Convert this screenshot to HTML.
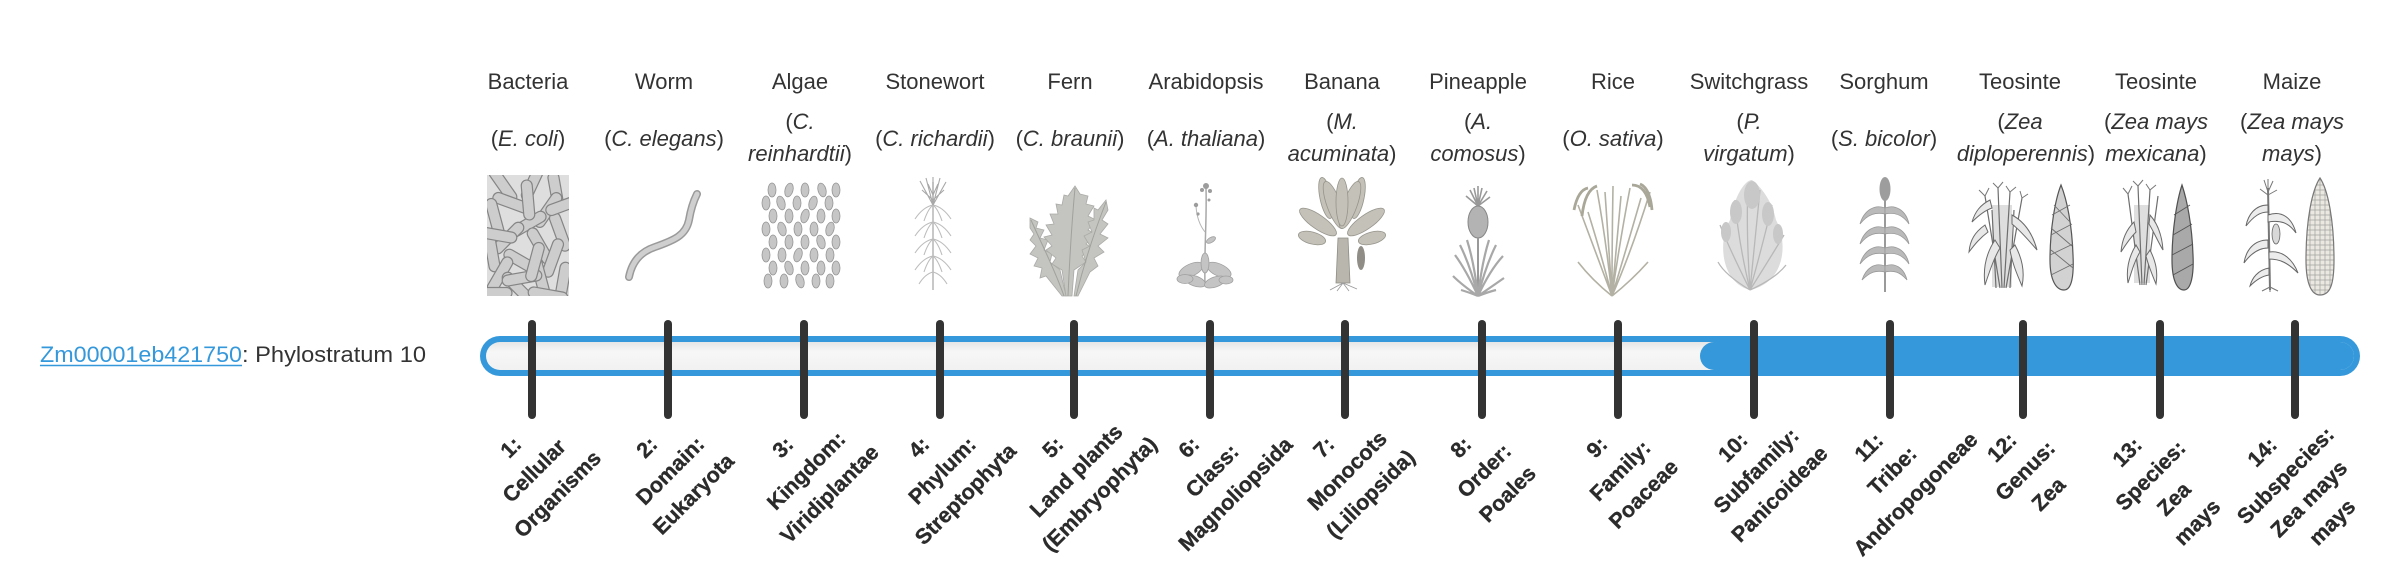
<!DOCTYPE html>
<html><head><meta charset="utf-8"><style>
html,body{margin:0;padding:0;background:#fff;width:2400px;height:580px;overflow:hidden}
svg{display:block}
</style></head><body>
<svg width="2400" height="580" viewBox="0 0 2400 580" xmlns="http://www.w3.org/2000/svg" font-family="'Liberation Sans', sans-serif">
<defs>
  <linearGradient id="ig" x1="0" y1="0" x2="0" y2="1">
    <stop offset="0" stop-color="#e6e6e6"/>
    <stop offset="0.35" stop-color="#f7f7f7"/>
    <stop offset="1" stop-color="#f1f1f1"/>
  </linearGradient>
  <clipPath id="cb"><rect x="487" y="175" width="82" height="121"/></clipPath>
  <pattern id="kern" width="5" height="5" patternUnits="userSpaceOnUse"><rect width="5" height="5" fill="#ebe8e2" stroke="#a9a6a0" stroke-width="0.8"/></pattern>
</defs>

<!-- Header names -->
<g font-size="22" fill="#333" text-anchor="middle">
  <text x="528" y="89">Bacteria</text>
  <text x="664" y="89">Worm</text>
  <text x="800" y="89">Algae</text>
  <text x="935" y="89">Stonewort</text>
  <text x="1070" y="89">Fern</text>
  <text x="1206" y="89">Arabidopsis</text>
  <text x="1342" y="89">Banana</text>
  <text x="1478" y="89">Pineapple</text>
  <text x="1613" y="89">Rice</text>
  <text x="1749" y="89">Switchgrass</text>
  <text x="1884" y="89">Sorghum</text>
  <text x="2020" y="89">Teosinte</text>
  <text x="2156" y="89">Teosinte</text>
  <text x="2292" y="89">Maize</text>
</g>

<!-- Species -->
<g font-size="22" fill="#333" text-anchor="middle">
  <text x="528" y="146">(<tspan font-style="italic">E. coli</tspan>)</text>
  <text x="664" y="146">(<tspan font-style="italic">C. elegans</tspan>)</text>
  <text x="800" y="129">(<tspan font-style="italic">C.</tspan></text>
  <text x="800" y="161"><tspan font-style="italic">reinhardtii</tspan>)</text>
  <text x="935" y="146">(<tspan font-style="italic">C. richardii</tspan>)</text>
  <text x="1070" y="146">(<tspan font-style="italic">C. braunii</tspan>)</text>
  <text x="1206" y="146">(<tspan font-style="italic">A. thaliana</tspan>)</text>
  <text x="1342" y="129">(<tspan font-style="italic">M.</tspan></text>
  <text x="1342" y="161"><tspan font-style="italic">acuminata</tspan>)</text>
  <text x="1478" y="129">(<tspan font-style="italic">A.</tspan></text>
  <text x="1478" y="161"><tspan font-style="italic">comosus</tspan>)</text>
  <text x="1613" y="146">(<tspan font-style="italic">O. sativa</tspan>)</text>
  <text x="1749" y="129">(<tspan font-style="italic">P.</tspan></text>
  <text x="1749" y="161"><tspan font-style="italic">virgatum</tspan>)</text>
  <text x="1884" y="146">(<tspan font-style="italic">S. bicolor</tspan>)</text>
  <text x="2020" y="129">(<tspan font-style="italic">Zea</tspan></text>
  <text x="2026" y="161"><tspan font-style="italic">diploperennis</tspan>)</text>
  <text x="2156" y="129">(<tspan font-style="italic">Zea mays</tspan></text>
  <text x="2156" y="161"><tspan font-style="italic">mexicana</tspan>)</text>
  <text x="2292" y="129">(<tspan font-style="italic">Zea mays</tspan></text>
  <text x="2292" y="161"><tspan font-style="italic">mays</tspan>)</text>
</g>

<!-- 1 Bacteria -->
<g clip-path="url(#cb)">
  <rect x="487" y="175" width="82" height="121" fill="#dedede"/>
  <g fill="#cdcdcd" stroke="#858585" stroke-width="1.2">
    <rect x="-20" y="-5.5" width="40" height="11" rx="5.5" transform="translate(503,185) rotate(55)"/>
    <rect x="-20" y="-5.5" width="40" height="11" rx="5.5" transform="translate(533,182) rotate(-65)"/>
    <rect x="-20" y="-5.5" width="40" height="11" rx="5.5" transform="translate(556,192) rotate(80)"/>
    <rect x="-20" y="-5.5" width="40" height="11" rx="5.5" transform="translate(512,203) rotate(20)"/>
    <rect x="-20" y="-5.5" width="40" height="11" rx="5.5" transform="translate(548,210) rotate(-55)"/>
    <rect x="-20" y="-5.5" width="40" height="11" rx="5.5" transform="translate(495,218) rotate(75)"/>
    <rect x="-20" y="-5.5" width="40" height="11" rx="5.5" transform="translate(528,224) rotate(-30)"/>
    <rect x="-20" y="-5.5" width="40" height="11" rx="5.5" transform="translate(560,232) rotate(70)"/>
    <rect x="-20" y="-5.5" width="40" height="11" rx="5.5" transform="translate(508,238) rotate(-45)"/>
    <rect x="-20" y="-5.5" width="40" height="11" rx="5.5" transform="translate(540,246) rotate(60)"/>
    <rect x="-20" y="-5.5" width="40" height="11" rx="5.5" transform="translate(492,252) rotate(80)"/>
    <rect x="-20" y="-5.5" width="40" height="11" rx="5.5" transform="translate(553,258) rotate(-70)"/>
    <rect x="-20" y="-5.5" width="40" height="11" rx="5.5" transform="translate(522,262) rotate(30)"/>
    <rect x="-20" y="-5.5" width="40" height="11" rx="5.5" transform="translate(500,275) rotate(-60)"/>
    <rect x="-20" y="-5.5" width="40" height="11" rx="5.5" transform="translate(540,276) rotate(75)"/>
    <rect x="-20" y="-5.5" width="40" height="11" rx="5.5" transform="translate(563,282) rotate(-80)"/>
    <rect x="-20" y="-5.5" width="40" height="11" rx="5.5" transform="translate(518,288) rotate(45)"/>
    <rect x="-20" y="-5.5" width="40" height="11" rx="5.5" transform="translate(548,295) rotate(10)"/>
    <rect x="-20" y="-5.5" width="40" height="11" rx="5.5" transform="translate(492,293) rotate(0)"/>
    <rect x="-20" y="-5.5" width="40" height="11" rx="5.5" transform="translate(528,200) rotate(85)"/>
    <rect x="-20" y="-5.5" width="40" height="11" rx="5.5" transform="translate(522,278) rotate(-10)"/>
    <rect x="-20" y="-5.5" width="40" height="11" rx="5.5" transform="translate(565,205) rotate(-20)"/>
    <rect x="-20" y="-5.5" width="40" height="11" rx="5.5" transform="translate(497,235) rotate(10)"/>
    <rect x="-20" y="-5.5" width="40" height="11" rx="5.5" transform="translate(535,262) rotate(-75)"/>
  </g>
</g>

<!-- 2 Worm -->
<path d="M629,277 C632,262 640,252 655,247 C675,240 686,235 689,220 C691,208 694,200 697,194" fill="none" stroke="#9a9a9a" stroke-width="8" stroke-linecap="round"/>
<path d="M629,277 C632,262 640,252 655,247 C675,240 686,235 689,220 C691,208 694,200 697,194" fill="none" stroke="#cfcfcf" stroke-width="5" stroke-linecap="round"/>

<!-- 3 Algae -->
<g fill="#c6c6c6" stroke="#959595" stroke-width="0.8">
  <ellipse cx="772" cy="190" rx="4" ry="7"/><ellipse cx="789" cy="190" rx="4" ry="7" transform="rotate(15 789 190)"/><ellipse cx="805" cy="190" rx="4" ry="7"/><ellipse cx="822" cy="190" rx="4" ry="7" transform="rotate(-15 822 190)"/><ellipse cx="836" cy="190" rx="4" ry="7"/>
  <ellipse cx="766" cy="203" rx="4" ry="7"/><ellipse cx="781" cy="203" rx="4" ry="7" transform="rotate(-15 781 203)"/><ellipse cx="797" cy="203" rx="4" ry="7"/><ellipse cx="813" cy="203" rx="4" ry="7" transform="rotate(15 813 203)"/><ellipse cx="829" cy="203" rx="4" ry="7"/>
  <ellipse cx="773" cy="216" rx="4" ry="7"/><ellipse cx="789" cy="216" rx="4" ry="7"/><ellipse cx="805" cy="216" rx="4" ry="7" transform="rotate(15 805 216)"/><ellipse cx="821" cy="216" rx="4" ry="7"/><ellipse cx="836" cy="216" rx="4" ry="7"/>
  <ellipse cx="766" cy="229" rx="4" ry="7"/><ellipse cx="782" cy="229" rx="4" ry="7" transform="rotate(-15 782 229)"/><ellipse cx="798" cy="229" rx="4" ry="7"/><ellipse cx="814" cy="229" rx="4" ry="7"/><ellipse cx="830" cy="229" rx="4" ry="7" transform="rotate(15 830 229)"/>
  <ellipse cx="773" cy="242" rx="4" ry="7"/><ellipse cx="789" cy="242" rx="4" ry="7"/><ellipse cx="805" cy="242" rx="4" ry="7"/><ellipse cx="821" cy="242" rx="4" ry="7" transform="rotate(-15 821 242)"/><ellipse cx="836" cy="242" rx="4" ry="7"/>
  <ellipse cx="766" cy="255" rx="4" ry="7"/><ellipse cx="782" cy="255" rx="4" ry="7"/><ellipse cx="798" cy="255" rx="4" ry="7" transform="rotate(15 798 255)"/><ellipse cx="814" cy="255" rx="4" ry="7"/><ellipse cx="830" cy="255" rx="4" ry="7"/>
  <ellipse cx="773" cy="268" rx="4" ry="7"/><ellipse cx="789" cy="268" rx="4" ry="7" transform="rotate(-15 789 268)"/><ellipse cx="805" cy="268" rx="4" ry="7"/><ellipse cx="821" cy="268" rx="4" ry="7"/><ellipse cx="836" cy="268" rx="4" ry="7"/>
  <ellipse cx="768" cy="281" rx="4" ry="7"/><ellipse cx="784" cy="281" rx="4" ry="7"/><ellipse cx="800" cy="281" rx="4" ry="7" transform="rotate(-15 800 281)"/><ellipse cx="816" cy="281" rx="4" ry="7"/><ellipse cx="830" cy="281" rx="4" ry="7"/>
</g>

<!-- 4 Stonewort -->
<g fill="none" stroke="#bdbdbd" stroke-width="1.1">
  <line x1="933" y1="182" x2="933" y2="290" stroke="#b0b0b0" stroke-width="1.4"/>
  <path d="M933,205 q-10,2 -18,14 M933,205 q10,2 18,14 M933,205 q-5,4 -9,16 M933,205 q5,4 9,16"/>
  <path d="M933,222 q-10,2 -18,14 M933,222 q10,2 18,14 M933,222 q-5,4 -9,16 M933,222 q5,4 9,16"/>
  <path d="M933,239 q-10,2 -18,14 M933,239 q10,2 18,14 M933,239 q-5,4 -9,16 M933,239 q5,4 9,16"/>
  <path d="M933,256 q-10,2 -18,14 M933,256 q10,2 18,14 M933,256 q-5,4 -9,16 M933,256 q5,4 9,16"/>
  <path d="M933,272 q-8,2 -14,12 M933,272 q8,2 14,12"/>
  <path d="M933,205 L920,181 M933,205 L926,178 M933,205 L933,177 M933,205 L940,178 M933,205 L946,182 M933,200 L922,190 M933,200 L944,190 M933,195 L928,184 M933,195 L938,184" stroke="#a8a8a8"/>
</g>

<!-- 5 Fern -->
<g fill="#c4c4c1" stroke="#aaaaa7" stroke-width="0.8">
  <polygon points="1030,218 1038,222 1036,228 1044,230 1040,238 1048,240 1044,250 1052,254 1050,262 1060,270 1066,296 1062,296 1046,276 1040,278 1042,268 1034,266 1038,258 1030,254 1036,246 1030,240 1034,234 1030,228"/>
  <polygon points="1075,186 1068,196 1064,195 1062,205 1056,204 1058,214 1050,214 1054,224 1046,225 1052,235 1044,237 1052,246 1046,250 1056,258 1052,264 1062,270 1066,296 1072,296 1074,270 1086,262 1082,256 1092,248 1086,244 1096,234 1088,230 1096,220 1088,216 1094,206 1086,204 1088,196 1080,194"/>
  <polygon points="1106,200 1098,210 1094,208 1094,220 1088,222 1092,232 1084,236 1090,246 1082,250 1086,262 1078,270 1074,296 1078,296 1090,272 1098,266 1094,258 1104,252 1098,246 1108,238 1100,234 1108,224 1102,220 1108,210"/>
  <path d="M1068,296 C1070,250 1072,220 1075,188 M1076,296 C1085,260 1095,230 1106,202 M1064,296 C1055,270 1042,245 1031,220" fill="none" stroke="#a0a09d" stroke-width="1"/>
</g>

<!-- 6 Arabidopsis -->
<g>
  <path d="M1205,285 C1204,250 1207,220 1206,188" fill="none" stroke="#a8a8a8" stroke-width="1.5"/>
  <path d="M1205,232 q-8,-10 -9,-26" fill="none" stroke="#b5b5b5" stroke-width="1"/>
  <g fill="#9c9c9c"><circle cx="1206" cy="186" r="3"/><circle cx="1202" cy="190" r="2"/><circle cx="1210" cy="191" r="2"/><circle cx="1196" cy="205" r="2.2"/><circle cx="1198" cy="214" r="1.6"/><circle cx="1209" cy="200" r="1.5"/></g>
  <g fill="#c4c4c4" stroke="#a0a0a0" stroke-width="0.8">
    <ellipse cx="1191" cy="270" rx="13" ry="6" transform="rotate(-25 1191 270)"/>
    <ellipse cx="1219" cy="270" rx="13" ry="6" transform="rotate(25 1219 270)"/>
    <ellipse cx="1195" cy="281" rx="11" ry="5" transform="rotate(20 1195 281)"/>
    <ellipse cx="1215" cy="282" rx="11" ry="5" transform="rotate(-20 1215 282)"/>
    <ellipse cx="1205" cy="263" rx="4" ry="10"/>
    <ellipse cx="1185" cy="279" rx="8" ry="4.5"/>
    <ellipse cx="1226" cy="280" rx="7" ry="4"/>
    <ellipse cx="1211" cy="240" rx="5" ry="2.5" transform="rotate(-30 1211 240)"/>
  </g>
</g>

<!-- 7 Banana -->
<g>
  <path d="M1336,283 L1338,238 L1348,238 L1350,283 Z" fill="#b8b6ad" stroke="#8f8d85" stroke-width="0.8"/>
  <g fill="#c4c2b8" stroke="#96948b" stroke-width="0.8">
    <ellipse cx="1312" cy="238" rx="6" ry="14" transform="rotate(-75 1312 238)"/>
    <ellipse cx="1372" cy="238" rx="6" ry="14" transform="rotate(75 1372 238)"/>
    <ellipse cx="1318" cy="222" rx="7" ry="22" transform="rotate(-55 1318 222)"/>
    <ellipse cx="1366" cy="222" rx="7" ry="22" transform="rotate(55 1366 222)"/>
    <ellipse cx="1326" cy="198" rx="6" ry="21" transform="rotate(-12 1326 198)"/>
    <ellipse cx="1358" cy="198" rx="6" ry="21" transform="rotate(12 1358 198)"/>
    <ellipse cx="1334" cy="205" rx="7" ry="25" transform="rotate(-20 1334 205)"/>
    <ellipse cx="1350" cy="205" rx="7" ry="25" transform="rotate(20 1350 205)"/>
    <ellipse cx="1342" cy="202" rx="6" ry="24"/>
  </g>
  <ellipse cx="1361" cy="258" rx="4" ry="12" fill="#8f8d85"/>
  <path d="M1343,283 L1330,290 M1343,283 L1337,291 M1343,283 L1349,291 M1343,283 L1357,289" stroke="#999" stroke-width="0.8"/>
</g>

<!-- 8 Pineapple -->
<g>
  <path d="M1478,206 L1470,190 M1478,206 L1474,188 M1478,206 L1478,186 M1478,206 L1482,188 M1478,206 L1487,191 M1478,206 L1466,196 M1478,206 L1490,197" stroke="#999" stroke-width="1.6" fill="none"/>
  <ellipse cx="1478" cy="222" rx="10" ry="16" fill="#b3b3b3" stroke="#888" stroke-width="1"/>
  <line x1="1478" y1="296" x2="1478" y2="238" stroke="#999" stroke-width="2"/>
  <path d="M1478,296 Q1466,270 1455,255 M1478,296 Q1470,265 1460,245 M1478,296 Q1474,262 1467,240 M1478,296 Q1482,262 1489,240 M1478,296 Q1486,265 1496,245 M1478,296 Q1490,270 1503,256 M1478,296 Q1462,285 1453,276 M1478,296 Q1494,285 1504,278 M1478,296 Q1468,292 1461,290 M1478,296 Q1488,292 1496,290" stroke="#a8a8a8" stroke-width="2.2" fill="none"/>
</g>

<!-- 9 Rice -->
<g fill="none" stroke="#b3b1a3" stroke-width="1.6">
  <path d="M1612,296 Q1595,250 1578,205 M1612,296 Q1600,250 1588,212 M1612,296 Q1606,240 1597,190 M1612,296 Q1608,240 1605,192 M1612,296 Q1612,240 1613,186 M1612,296 Q1616,250 1621,196 M1612,296 Q1620,240 1630,188 M1612,296 Q1626,250 1641,198 M1612,296 Q1632,250 1650,192 M1612,296 Q1632,280 1648,262 M1612,296 Q1592,280 1578,262"/>
  <path d="M1588,188 q-10,2 -14,22 M1597,186 q-12,4 -15,30 M1632,185 q14,0 18,22 M1640,184 q10,4 12,26" stroke="#a9a798" stroke-width="2.8"/>
</g>

<!-- 10 Switchgrass -->
<g>
  <path d="M1750,290 C1720,282 1718,240 1730,220 C1735,195 1745,180 1752,180 C1760,186 1772,200 1776,220 C1788,242 1786,282 1750,290 Z" fill="#dcdcdc"/>
  <path d="M1750,290 Q1730,250 1720,225 M1750,290 Q1738,240 1735,200 M1750,290 Q1746,230 1748,185 M1750,290 Q1756,230 1760,190 M1750,290 Q1764,240 1772,205 M1750,290 Q1772,255 1784,235 M1750,290 Q1725,275 1718,262 M1750,290 Q1776,278 1786,265" stroke="#b8b8b8" stroke-width="1.3" fill="none"/>
  <g fill="#c8c8c8"><ellipse cx="1752" cy="195" rx="8" ry="14"/><ellipse cx="1736" cy="212" rx="6" ry="12"/><ellipse cx="1768" cy="214" rx="6" ry="12"/><ellipse cx="1726" cy="232" rx="5" ry="10"/><ellipse cx="1778" cy="234" rx="5" ry="10"/></g>
</g>

<!-- 11 Sorghum -->
<g>
  <line x1="1885" y1="198" x2="1885" y2="292" stroke="#9a9a9a" stroke-width="2"/>
  <ellipse cx="1885" cy="189" rx="5.5" ry="12" fill="#9d9d9d"/>
  <g fill="#bababa" stroke="#999" stroke-width="0.8">
    <path d="M1885,208 C1875,204 1864,210 1860,224 C1868,214 1876,212 1885,214 Z"/>
    <path d="M1885,208 C1895,204 1906,210 1909,224 C1902,214 1894,212 1885,214 Z"/>
    <path d="M1885,228 C1875,224 1864,230 1860,244 C1868,234 1876,232 1885,234 Z"/>
    <path d="M1885,228 C1895,224 1906,230 1909,244 C1902,234 1894,232 1885,234 Z"/>
    <path d="M1885,248 C1875,244 1864,250 1860,264 C1868,254 1876,252 1885,254 Z"/>
    <path d="M1885,248 C1895,244 1906,250 1909,264 C1902,254 1894,252 1885,254 Z"/>
    <path d="M1885,266 C1875,262 1866,268 1862,280 C1870,272 1876,270 1885,272 Z"/>
    <path d="M1885,266 C1895,262 1904,268 1907,280 C1900,272 1894,270 1885,272 Z"/>
  </g>
</g>

<!-- 12 Teosinte -->
<g>
  <rect x="1992" y="205" width="20" height="82" fill="#dedede"/>
  <path d="M2000,288 L1985,196 M2002,288 L1998,188 M2004,288 L2010,192 M2006,288 L2022,198 M1996,288 L1992,210 M2010,288 L2014,210" stroke="#6e6e6e" stroke-width="1.2" fill="none"/>
  <g fill="#e8e8e8" stroke="#6a6a6a" stroke-width="1">
    <path d="M1985,225 C1975,232 1970,240 1969,252 C1975,244 1980,238 1988,232 Z"/>
    <path d="M2012,215 C2025,222 2033,235 2037,250 C2030,242 2022,232 2012,224 Z"/>
    <path d="M1995,240 C1985,255 1983,270 1985,285 C1990,270 1994,258 2000,248 Z"/>
    <path d="M2015,245 C2022,258 2025,272 2022,286 C2016,272 2012,262 2010,250 Z"/>
    <path d="M1990,200 C1980,205 1975,212 1972,222 C1980,214 1986,210 1992,208 Z"/>
  </g>
  <path d="M1985,196 l-6,-6 m6,6 l4,-8 M1998,188 l-5,-5 m5,5 l5,-6 M2010,192 l-4,-6 m4,6 l6,-5 M2022,198 l-2,-7 m2,7 l6,-4" stroke="#777" stroke-width="1" fill="none"/>
  <path d="M2061,185 C2055,200 2050,230 2050,260 C2050,280 2056,290 2064,290 C2072,290 2074,275 2073,255 C2072,225 2067,200 2061,185 Z" fill="#d2d2d2" stroke="#555" stroke-width="1.2"/>
  <path d="M2052,215 L2070,205 M2051,235 L2072,224 M2050,255 L2073,244 M2051,275 L2073,264 M2054,205 L2070,222 M2051,228 L2072,246 M2051,250 L2073,268" stroke="#707070" stroke-width="0.9" fill="none"/>
</g>

<!-- 13 Teosinte mexicana -->
<g>
  <rect x="2134" y="205" width="16" height="78" fill="#dedede"/>
  <path d="M2140,285 L2128,194 M2142,285 L2138,186 M2144,285 L2150,190 M2146,285 L2158,196" stroke="#6e6e6e" stroke-width="1.2" fill="none"/>
  <g fill="#e8e8e8" stroke="#6a6a6a" stroke-width="1">
    <path d="M2134,222 C2126,230 2122,240 2121,252 C2126,244 2130,238 2136,232 Z"/>
    <path d="M2150,215 C2158,224 2162,236 2163,250 C2158,242 2154,232 2149,224 Z"/>
    <path d="M2136,245 C2128,258 2126,270 2128,283 C2132,270 2135,260 2140,252 Z"/>
    <path d="M2150,250 C2156,262 2158,272 2156,284 C2151,272 2148,264 2146,256 Z"/>
  </g>
  <path d="M2128,194 l-5,-6 m5,6 l4,-8 M2138,186 l-5,-5 m5,5 l5,-6 M2150,190 l-4,-6 m4,6 l6,-5" stroke="#777" stroke-width="1" fill="none"/>
  <path d="M2182,185 C2177,200 2172,230 2172,260 C2172,280 2177,290 2184,290 C2191,290 2194,275 2193,255 C2192,225 2187,200 2182,185 Z" fill="#a9a9a9" stroke="#505050" stroke-width="1.2"/>
  <path d="M2174,215 L2190,205 M2173,235 L2192,224 M2172,255 L2193,244 M2173,275 L2193,264" stroke="#555" stroke-width="0.9" fill="none"/>
</g>

<!-- 14 Maize -->
<g>
  <line x1="2270" y1="290" x2="2268" y2="188" stroke="#777" stroke-width="2"/>
  <path d="M2268,192 l-4,-12 M2268,192 l0,-13 M2268,192 l5,-11 M2268,195 l-8,-6 M2268,195 l9,-5" stroke="#777" stroke-width="1" fill="none"/>
  <g fill="#ececec" stroke="#666" stroke-width="1">
    <path d="M2268,205 C2255,205 2248,215 2246,226 C2254,216 2260,212 2268,212 Z"/>
    <path d="M2268,215 C2282,210 2292,218 2296,233 C2288,222 2280,220 2268,222 Z"/>
    <path d="M2268,240 C2254,240 2246,250 2244,263 C2252,252 2260,248 2268,248 Z"/>
    <path d="M2269,252 C2283,250 2293,260 2298,273 C2288,263 2280,259 2269,259 Z"/>
    <path d="M2269,268 C2258,270 2252,278 2250,286 C2256,280 2262,276 2269,275 Z"/>
  </g>
  <ellipse cx="2276" cy="234" rx="4" ry="10" fill="#d8d8d8" stroke="#666" stroke-width="0.8"/>
  <path d="M2270,287 l-8,4 M2270,287 l8,4 M2270,287 l0,5" stroke="#777" stroke-width="1"/>
  <path d="M2320,178 C2312,190 2306,220 2306,260 C2306,285 2312,295 2320,295 C2330,295 2334,285 2334,260 C2334,220 2328,190 2320,178 Z" fill="url(#kern)" stroke="#777" stroke-width="1.2"/>
</g>

<!-- Left label -->
<text x="40" y="362" font-size="22.5" fill="#3498db" textLength="202" lengthAdjust="spacingAndGlyphs">Zm00001eb421750</text>
<line x1="40" y1="365.5" x2="242" y2="365.5" stroke="#3498db" stroke-width="1.5"/>
<text x="242" y="362" font-size="22.5" fill="#333" textLength="184" lengthAdjust="spacingAndGlyphs">: Phylostratum 10</text>

<!-- Bar -->
<rect x="480" y="336" width="1880" height="40" rx="20" fill="#3498db"/>
<rect x="486" y="342" width="1868" height="28" rx="14" fill="url(#ig)"/>
<rect x="1700" y="342" width="654" height="28" rx="14" fill="#3498db"/>

<!-- Ticks -->
<g stroke="#333" stroke-width="8" stroke-linecap="round">
  <line x1="532" y1="324" x2="532" y2="415"/>
  <line x1="668" y1="324" x2="668" y2="415"/>
  <line x1="804" y1="324" x2="804" y2="415"/>
  <line x1="940" y1="324" x2="940" y2="415"/>
  <line x1="1074" y1="324" x2="1074" y2="415"/>
  <line x1="1210" y1="324" x2="1210" y2="415"/>
  <line x1="1345" y1="324" x2="1345" y2="415"/>
  <line x1="1482" y1="324" x2="1482" y2="415"/>
  <line x1="1618" y1="324" x2="1618" y2="415"/>
  <line x1="1754" y1="324" x2="1754" y2="415"/>
  <line x1="1890" y1="324" x2="1890" y2="415"/>
  <line x1="2023" y1="324" x2="2023" y2="415"/>
  <line x1="2160" y1="324" x2="2160" y2="415"/>
  <line x1="2295" y1="324" x2="2295" y2="415"/>
</g>

<!-- Rotated labels -->
<g font-size="21.5" font-weight="bold" fill="#2b2b2b" stroke="#2b2b2b" stroke-width="0.35" text-anchor="middle">
  <g transform="translate(534,470.5) rotate(-45)"><text y="-25.5">1:</text><text y="7.5">Cellular</text><text y="40.5">Organisms</text></g>
  <g transform="translate(670,470.5) rotate(-45)"><text y="-25.5">2:</text><text y="7.5">Domain:</text><text y="40.5">Eukaryota</text></g>
  <g transform="translate(806,470.5) rotate(-45)"><text y="-25.5">3:</text><text y="7.5">Kingdom:</text><text y="40.5">Viridiplantae</text></g>
  <g transform="translate(942,470.5) rotate(-45)"><text y="-25.5">4:</text><text y="7.5">Phylum:</text><text y="40.5">Streptophyta</text></g>
  <g transform="translate(1076,470.5) rotate(-45)"><text y="-25.5">5:</text><text y="7.5">Land plants</text><text y="40.5">(Embryophyta)</text></g>
  <g transform="translate(1212,470.5) rotate(-45)"><text y="-25.5">6:</text><text y="7.5">Class:</text><text y="40.5">Magnoliopsida</text></g>
  <g transform="translate(1347,470.5) rotate(-45)"><text y="-25.5">7:</text><text y="7.5">Monocots</text><text y="40.5">(Liliopsida)</text></g>
  <g transform="translate(1484,470.5) rotate(-45)"><text y="-25.5">8:</text><text y="7.5">Order:</text><text y="40.5">Poales</text></g>
  <g transform="translate(1620,470.5) rotate(-45)"><text y="-25.5">9:</text><text y="7.5">Family:</text><text y="40.5">Poaceae</text></g>
  <g transform="translate(1756,470.5) rotate(-45)"><text y="-25.5">10:</text><text y="7.5">Subfamily:</text><text y="40.5">Panicoideae</text></g>
  <g transform="translate(1892,470.5) rotate(-45)"><text y="-25.5">11:</text><text y="7.5">Tribe:</text><text y="40.5">Andropogoneae</text></g>
  <g transform="translate(2025,470.5) rotate(-45)"><text y="-25.5">12:</text><text y="7.5">Genus:</text><text y="40.5">Zea</text></g>
  <g transform="translate(2162,487) rotate(-45)"><text y="-42">13:</text><text y="-9">Species:</text><text y="24">Zea</text><text y="57">mays</text></g>
  <g transform="translate(2297,487) rotate(-45)"><text y="-42">14:</text><text y="-9">Subspecies:</text><text y="24">Zea mays</text><text y="57">mays</text></g>
</g>
</svg>
</body></html>
